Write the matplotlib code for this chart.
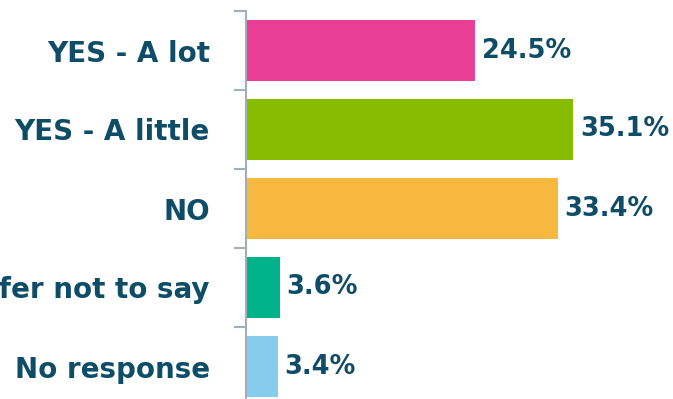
import matplotlib.pyplot as plt

# Data
categories = ["YES - A lot", "YES - A little", "NO", "Prefer not to say", "No response"]
values = [24.5, 35.1, 33.4, 3.6, 3.4]
labels = ["24.5%", "35.1%", "33.4%", "3.6%", "3.4%"]
colors = ["#E83E93", "#86BD00", "#F8B83F", "#00B28A", "#86CDED"]

text_color = "#0E4D67"
axis_color = "#A3AEB8"

fig = plt.figure(figsize=(6.73, 3.99), dpi=100)
# axes placed so the bottom band runs past the figure edge, as in the reference
ax = fig.add_axes([246 / 673, 1 - 406 / 399, 427 / 673, 395 / 399])

pos = list(range(len(categories)))
ax.barh(pos, values, height=0.78, color=colors)
ax.set_ylim(len(categories) - 0.5, -0.5)
ax.set_xlim(0, 427 / 9.33)

for p, v, lab in zip(pos, values, labels):
    ax.text(v + 0.75, p, lab, va="center", ha="left", fontsize=18.5,
            fontweight="bold", color=text_color, family="DejaVu Sans")

ax.set_yticks(pos)
ax.set_yticklabels(categories, fontsize=20, fontweight="bold",
                   color=text_color, family="DejaVu Sans")
ax.tick_params(axis="y", which="major", length=0, pad=26)
ax.set_yticks([p - 0.5 for p in pos], minor=True)
ax.tick_params(axis="y", which="minor", length=9, width=1.5, color=axis_color)

ax.set_xticks([])
for side in ["top", "right", "bottom"]:
    ax.spines[side].set_visible(False)
ax.spines["left"].set_color(axis_color)
ax.spines["left"].set_linewidth(1.5)

fig.savefig("out.png", dpi=100)
